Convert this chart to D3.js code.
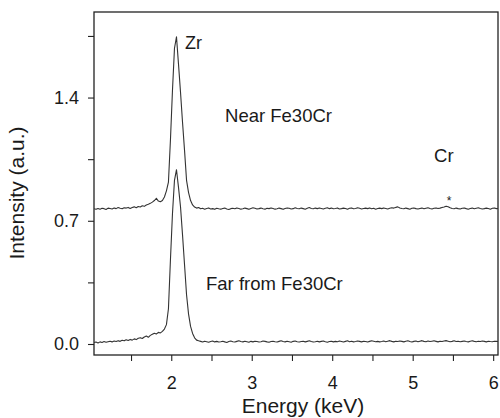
<!DOCTYPE html>
<html>
<head>
<meta charset="utf-8">
<script src="https://cdn.jsdelivr.net/npm/d3@7"></script>
<style>
  html, body { margin: 0; padding: 0; background: #fff; }
  svg { display: block; font-family: "Liberation Sans", Arial, Helvetica, sans-serif; }
</style>
</head>
<body>
<svg id="chart" width="500" height="418"></svg>
<script>
// EDS spectra: channel energies start at 1.04 keV with 0.025 keV spacing
const channelStart = 1.04;
const channelStep = 0.025;

// Spectrum recorded near the Fe30Cr particle (offset upward for display)
const nearFe30Cr = [
  0.768, 0.765, 0.770, 0.766, 0.771, 0.769, 0.764, 0.772, 0.770, 0.767,
  0.773, 0.769, 0.775, 0.771, 0.768, 0.774, 0.772, 0.776, 0.770, 0.775,
  0.779, 0.774, 0.781, 0.778, 0.785, 0.782, 0.790, 0.794, 0.799, 0.806,
  0.815, 0.828, 0.812, 0.808, 0.815, 0.835, 0.870, 0.920, 1.160, 1.440,
  1.680, 1.745, 1.590, 1.430, 1.260, 1.100, 0.930, 0.860, 0.815, 0.790,
  0.778, 0.772, 0.775,
  0.768, 0.771, 0.766, 0.770, 0.773, 0.767, 0.769, 0.765, 0.771, 0.768,
  0.766, 0.770, 0.772, 0.767, 0.764, 0.769, 0.771, 0.768, 0.773, 0.770,
  0.766, 0.768, 0.772, 0.769, 0.765, 0.770, 0.774, 0.771, 0.767, 0.769,
  0.772, 0.768, 0.766, 0.771, 0.769, 0.773, 0.770, 0.766, 0.768, 0.772,
  0.769, 0.765, 0.770, 0.773, 0.771, 0.767, 0.769, 0.774, 0.770, 0.768,
  0.772, 0.769, 0.766, 0.771, 0.775, 0.770, 0.768, 0.772, 0.769, 0.773,
  0.770, 0.767, 0.771, 0.774, 0.769, 0.772, 0.768, 0.770, 0.773, 0.767,
  0.769, 0.772, 0.770, 0.766, 0.771, 0.773, 0.768, 0.770, 0.774, 0.771,
  0.767, 0.770, 0.772, 0.769, 0.773, 0.768, 0.771, 0.766, 0.770, 0.772,
  0.769, 0.773, 0.770, 0.767, 0.771, 0.774, 0.772, 0.776, 0.779, 0.773,
  0.770, 0.768, 0.772, 0.769, 0.766, 0.771, 0.773, 0.769, 0.767, 0.770,
  0.772, 0.768, 0.771, 0.774, 0.770, 0.767, 0.771, 0.773, 0.770, 0.772,
  0.775, 0.778, 0.783, 0.780, 0.774, 0.770, 0.768, 0.772, 0.769, 0.767,
  0.771, 0.773, 0.769, 0.766, 0.770, 0.772, 0.768, 0.771, 0.774, 0.770,
  0.767, 0.769, 0.772, 0.770, 0.766, 0.771, 0.773, 0.769, 0.770
];

// Spectrum recorded far from the Fe30Cr particle
const farFromFe30Cr = [
  0.008, 0.011, 0.006, 0.012, 0.009, 0.014, 0.010, 0.013, 0.016, 0.012,
  0.017, 0.014, 0.019, 0.015, 0.021, 0.018, 0.024, 0.020, 0.026, 0.022,
  0.029, 0.025, 0.033, 0.036, 0.031, 0.040, 0.045, 0.038, 0.049, 0.055,
  0.061, 0.057, 0.066, 0.063, 0.072, 0.085, 0.110, 0.200, 0.480, 0.740,
  0.930, 0.990, 0.890, 0.780, 0.620, 0.450, 0.280, 0.170, 0.100, 0.060,
  0.035, 0.022, 0.018,
  0.015, 0.011, 0.016, 0.013, 0.010, 0.014, 0.017, 0.012, 0.015, 0.011,
  0.013, 0.016, 0.012, 0.009, 0.014, 0.017, 0.013, 0.011, 0.015, 0.018,
  0.014, 0.012, 0.016, 0.013, 0.010, 0.015, 0.012, 0.016, 0.014, 0.011,
  0.013, 0.017, 0.015, 0.012, 0.010, 0.014, 0.016, 0.013, 0.011, 0.015,
  0.018, 0.014, 0.012, 0.016, 0.013, 0.010, 0.015, 0.017, 0.013, 0.011,
  0.014, 0.016, 0.012, 0.015, 0.018, 0.014, 0.011, 0.013, 0.016, 0.012,
  0.015, 0.017, 0.013, 0.010, 0.014, 0.016, 0.012, 0.015, 0.013, 0.017,
  0.014, 0.011, 0.015, 0.018, 0.013, 0.016, 0.012, 0.014, 0.017, 0.015,
  0.012, 0.016, 0.014, 0.011, 0.015, 0.018, 0.016, 0.013, 0.015, 0.012,
  0.014, 0.017, 0.013, 0.016, 0.019, 0.015, 0.012, 0.016, 0.014, 0.017,
  0.015, 0.012, 0.016, 0.018, 0.014, 0.011, 0.015, 0.017, 0.013, 0.016,
  0.019, 0.015, 0.013, 0.017, 0.014, 0.016, 0.018, 0.015, 0.012, 0.016,
  0.014, 0.017, 0.019, 0.016, 0.013, 0.015, 0.018, 0.014, 0.016, 0.013,
  0.015, 0.017, 0.014, 0.012, 0.016, 0.018, 0.015, 0.013, 0.016, 0.014,
  0.017, 0.015, 0.012, 0.016, 0.014, 0.013, 0.016, 0.015, 0.014
];

// Axis ticks
const xTicks = [1.5, 2, 2.5, 3, 3.5, 4, 4.5, 5, 5.5, 6];
const xTickLabels = [2, 3, 4, 5, 6];
const yTicks = [0, 0.35, 0.7, 1.05, 1.4, 1.75];
const yTickLabels = [0, 0.7, 1.4];

const svg = d3.select("#chart");
const box = { left: 94, right: 498, top: 12, bottom: 355 };

const x = d3.scaleLinear().domain([1.04, 6.06]).range([box.left, box.right]);
const y = d3.scaleLinear().domain([-0.0625, 1.886]).range([box.bottom, box.top]);

const energies = nearFe30Cr.map((_, i) => channelStart + i * channelStep);

svg.append("defs").append("clipPath").attr("id", "plot-clip")
  .append("rect")
  .attr("x", box.left).attr("y", box.top)
  .attr("width", box.right - box.left).attr("height", box.bottom - box.top);

// Axes
const xAxis = d3.axisBottom(x)
  .tickValues(xTicks)
  .tickSize(6)
  .tickPadding(15)
  .tickFormat(d => xTickLabels.includes(d) ? d3.format("d")(d) : "");

const yAxis = d3.axisLeft(y)
  .tickValues(yTicks)
  .tickSize(6)
  .tickPadding(9)
  .tickFormat(d => yTickLabels.some(v => Math.abs(v - d) < 1e-9) ? d3.format(".1f")(d) : "");

const gx = svg.append("g").attr("transform", `translate(0,${box.bottom})`).call(xAxis);
const gy = svg.append("g").attr("transform", `translate(${box.left},0)`).call(yAxis);

[gx, gy].forEach(g => {
  g.select(".domain").remove();
  g.selectAll(".tick line").attr("stroke", "#222").attr("stroke-width", 1.1);
  g.selectAll(".tick text")
    .attr("fill", "#1a1a1a")
    .style("font-size", "18px")
    .style("font-family", "'Liberation Sans', Arial, Helvetica, sans-serif");
});

// Frame
svg.append("rect")
  .attr("x", box.left).attr("y", box.top)
  .attr("width", box.right - box.left).attr("height", box.bottom - box.top)
  .attr("fill", "none").attr("stroke", "#222").attr("stroke-width", 1.3);

// Spectra
const line = d3.line()
  .x((d, i) => x(energies[i]))
  .y(d => y(d));

const plot = svg.append("g").attr("clip-path", "url(#plot-clip)");
[nearFe30Cr, farFromFe30Cr].forEach(series => {
  plot.append("path")
    .datum(series)
    .attr("d", line)
    .attr("fill", "none")
    .attr("stroke", "#333")
    .attr("stroke-width", 1.1)
    .attr("stroke-linejoin", "round");
});

// Annotations
const note = (text, e, v, size) => svg.append("text")
  .attr("x", x(e)).attr("y", y(v))
  .attr("fill", "#1a1a1a")
  .style("font-size", size + "px")
  .text(text);

note("Zr", 2.171, 1.676, 18);
note("Near Fe30Cr", 2.668, 1.261, 18.5);
note("Cr", 5.265, 1.034, 18.5);
note("Far from Fe30Cr", 2.432, 0.307, 18.5);
svg.append("text")
  .attr("x", x(5.451)).attr("y", y(0.79))
  .attr("text-anchor", "middle")
  .attr("fill", "#1a1a1a")
  .style("font-size", "12px")
  .text("*");

// Axis titles
svg.append("text")
  .attr("x", 303).attr("y", 413)
  .attr("text-anchor", "middle")
  .attr("fill", "#1a1a1a")
  .style("font-size", "21px")
  .text("Energy (keV)");

svg.append("text")
  .attr("transform", "translate(24,193) rotate(-90)")
  .attr("text-anchor", "middle")
  .attr("fill", "#1a1a1a")
  .style("font-size", "21px")
  .text("Intensity (a.u.)");
</script>
</body>
</html>
